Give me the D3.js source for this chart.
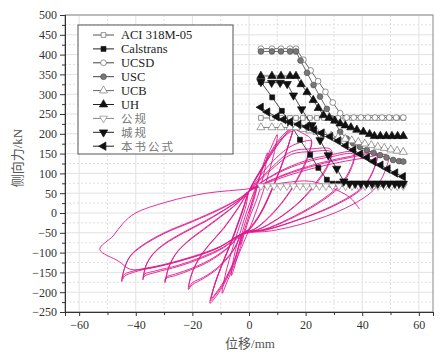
<!DOCTYPE html>
<html><head><meta charset="utf-8">
<script src="https://cdn.jsdelivr.net/npm/d3@7"></script>
<style>
body{margin:0;background:#fff;}
svg{display:block;}
</style></head>
<body>
<svg id="c" width="445" height="356"></svg>
<script>
// ---------------- data ----------------
const xTicks = [-60, -40, -20, 0, 20, 40, 60];
const yTicks = [-250, -200, -150, -100, -50, 0, 50, 100, 150, 200, 250, 300, 350, 400, 450, 500];
const legendNames = ["ACI 318M-05", "Calstrans", "UCSD", "USC", "UCB", "UH", "公规", "城规", "本书公式"];

const aciX = [4.2, 8.1, 11.3, 14.5, 16.6, 19, 21.5, 24, 26.5, 29, 31.5, 34, 36.3, 38.6, 40.9, 43.2, 45.5, 47.8, 50.1, 52.3, 54.5];
const aciY = [240, 240, 240, 240, 240, 240, 240, 240, 240, 240, 240, 240, 240, 240, 240, 240, 240, 240, 240, 240, 240];

const calX = [4.2, 8.2, 11.6, 14.5, 18, 21.6, 24.5, 27.5, 29.5, 31.5, 33.5, 35.5, 37.5, 39.5, 41.5, 43.5, 45.5, 47.5, 49.5, 51.5, 53, 54.5];
const calY = [331, 292, 258, 226, 185, 147, 114, 84, 74, 74, 74, 74, 74, 74, 74, 74, 74, 74, 74, 74, 74, 74];

const ucsdX = [4.2, 8.1, 11.3, 14.5, 16.6, 19.2, 21.8, 24.4, 27, 29.6, 32.2, 34.5, 37, 39.5, 42, 44.5, 47, 49.5, 52, 54.5];
const ucsdY = [415, 415, 415, 415, 415, 387, 360, 333, 306, 279, 252, 241, 241, 241, 241, 241, 241, 241, 241, 241];

const uscX = [4.2, 8.1, 11.3, 14.5, 16.6, 18.2, 20.5, 22.8, 25.1, 27.5, 29.8, 32.2, 34.5, 36.8, 39.2, 41.6, 44, 46.3, 48.6, 50.9, 53, 54.5];
const uscY = [408, 408, 408, 408, 408, 385, 354, 323, 294, 263, 237, 205, 188, 176, 167, 159, 152, 146, 140, 134, 131, 130];

const ucbX = [4.2, 8.1, 11.3, 14.5, 16.6, 19, 21.5, 24, 26.5, 29, 31.5, 34, 36.3, 38.6, 40.9, 43.2, 45.5, 47.8, 50.1, 52.3, 54.5];
const ucbY = [216, 216, 216, 216, 216, 212, 208, 204, 199, 195, 191, 187, 183, 179, 175, 171, 167, 164, 160, 157, 154];

const uhX = [4.2, 8.1, 11.3, 14.5, 16.6, 18.4, 20.5, 22.7, 24.5, 26.3, 28.3, 30.3, 32.2, 34, 36, 38.1, 40.4, 42.6, 44.3, 46.4, 48.5, 50.5, 52.5, 54.5];
const uhY = [346, 346, 346, 346, 346, 325, 305, 285, 265, 247, 240, 233, 226, 221, 216, 210, 205, 199, 194, 194, 194, 194, 194, 194];

const gongX = [4.2, 6.5, 8.8, 11.1, 13.4, 15.7, 18, 20.3, 22.6, 24.9, 27.2, 29.5, 31.8, 34.1, 36.4, 38.7, 41, 43.3, 45.6, 47.9, 50.2, 52.4, 54.5];
const gongY = [68, 68, 68, 68, 68, 68, 68, 68, 68, 68, 68, 68, 68, 68, 68, 68, 68, 68, 68, 68, 68, 68, 68];

const chengX = [4.2, 8, 11, 13.5, 15.7, 18.6, 22.2, 25.1, 28, 31, 33.5, 35.5, 37.5, 39.5, 41.5, 43.5, 45.5, 47.5, 49.5, 51.5, 53, 54.5];
const chengY = [331, 329, 329, 326, 297, 262, 222, 184, 146, 112, 80, 74, 74, 74, 74, 74, 74, 74, 74, 74, 74, 74];

const bookX = [4.2, 6.5, 9.8, 12.2, 14.5, 17.5, 20.4, 23, 25.7, 28.7, 31.5, 34.2, 36.9, 39.3, 41.7, 44, 46.5, 49, 51.7, 54.4];
const bookY = [267, 255, 243, 236, 230, 224, 218, 210, 202, 193, 182, 170, 159, 149, 140, 130, 121, 111, 101, 92];

// hysteresis test curve (displacement mm, force kN), cycle by cycle
const hys1 = [[0,0],[1.5,40],[3,75],[2.2,45],[0.5,5],[-1.5,-40],[-3,-80],[-2.2,-45],[-0.5,-5]];
const hys2 = [[2,45],[4.5,110],[6.5,152],[5.6,110],[3,40],[0,-15],[-3,-85],[-6.2,-158],[-5.3,-110],[-2.5,-35],[0,20]];
const hys3 = [[4,95],[7.5,160],[10,198],[9,155],[5,55],[1,-25],[-4,-110],[-7.5,-170],[-9.5,-203],[-8.5,-160],[-5,-70],[-1,20]];
const hys4a = [[0,55],[5,120],[10,180],[13.5,207],[15.7,218],[14.5,185],[12,130],[8,60],[4,0],[0,-40],[-2,-51],[-5,-120],[-9,-182],[-12,-214],[-13.8,-228],[-12.5,-190],[-10,-140],[-6,-70],[-2,10]];
const hys4b = [[0,55],[5,118],[10,176],[13.5,202],[15.5,212],[14.3,180],[11.8,125],[8,58],[4,-2],[0,-42],[-2,-51],[-5,-118],[-9,-178],[-12,-208],[-13.5,-222],[-12.3,-185],[-9.8,-135],[-6,-68],[-2,12]];
const hys4c = [[0,55],[5,115],[10,172],[13.3,198],[15.2,206],[14.1,176],[11.6,122],[8,56],[4,-4],[0,-43],[-2,-51],[-5,-115],[-9,-174],[-11.8,-203],[-13.2,-215],[-12.1,-180],[-9.6,-131],[-6,-66],[-2,14]];
const hys5a = [[0,55],[6,128],[11,180],[15,212],[18.5,203],[22,185],[21,150],[18,100],[13,40],[7,-10],[2,-40],[-2,-51],[-6,-100],[-11,-140],[-16,-165],[-20,-181],[-21.4,-193],[-20.5,-160],[-18,-120],[-14,-80],[-9,-40],[-4,10]];
const hys5b = [[0,55],[7,120],[14,165],[19,180],[22,182],[21,145],[18,96],[13,38],[7,-12],[2,-41],[-2,-51],[-6,-98],[-11,-137],[-16,-162],[-20,-176],[-21.2,-188],[-20.3,-155],[-17.8,-116],[-13.8,-77],[-9,-38],[-4,12]];
const hys6a = [[0,55],[8,115],[15,155],[22,162],[29,160],[28,125],[24,80],[18,30],[10,-15],[3,-42],[-2,-51],[-8,-92],[-14,-122],[-20,-142],[-26,-158],[-29.5,-166],[-29.7,-176],[-28.5,-140],[-26,-105],[-22,-75],[-16,-42],[-10,-10],[-4,25]];
const hys6b = [[0,55],[8,110],[15,148],[22,155],[29,154],[28,120],[24,76],[18,28],[10,-16],[3,-43],[-2,-51],[-8,-90],[-14,-119],[-20,-139],[-26,-154],[-29.3,-162],[-29.5,-170],[-28.3,-136],[-25.8,-102],[-21.8,-72],[-16,-40],[-10,-8],[-4,26]];
const hys7a = [[0,55],[10,102],[20,132],[29,147],[37,153],[36,115],[32,70],[24,25],[14,-15],[5,-42],[-2,-51],[-9,-88],[-17,-115],[-25,-135],[-33,-150],[-37,-160],[-37.5,-169],[-36.5,-135],[-34,-105],[-30,-80],[-23,-50],[-15,-20],[-7,15],[-2,40]];
const hys7b = [[0,55],[10,100],[20,128],[29,142],[37,148],[36,110],[32,66],[24,22],[14,-17],[5,-43],[-2,-51],[-9,-86],[-17,-112],[-25,-132],[-33,-146],[-37,-155],[-37.3,-164],[-36.3,-131],[-33.8,-102],[-29.8,-77],[-23,-48],[-15,-18],[-7,16],[-2,41]];
const hys8a = [[0,55],[12,96],[24,124],[35,142],[45,152],[44,110],[40,65],[30,20],[18,-15],[6,-42],[-2,-51],[-10,-85],[-20,-112],[-30,-132],[-40,-148],[-44,-160],[-45,-173],[-44,-140],[-42,-110],[-38,-85],[-30,-52],[-20,-22],[-10,10],[-3,38]];
const hys8b = [[0,55],[12,94],[24,121],[35,139],[45,148],[44,108],[40,62],[30,18],[18,-16],[6,-43],[-2,-51],[-10,-84],[-20,-110],[-30,-130],[-40,-145],[-44,-155],[-44.8,-166],[-43.8,-136],[-41.8,-107],[-37.8,-82],[-30,-50],[-20,-20],[-10,12],[-3,39]];
const hys9 = [[0,55],[14,95],[28,122],[40,138],[49,145],[48,105],[44,58],[34,12],[20,-25],[8,-45],[-2,-53],[-12,-92],[-24,-120],[-36,-140],[-42,-142],[-46,-122],[-52.7,-92],[-48,-58],[-44.5,-26],[-40.3,-1],[-29,28],[-15,50],[1,62],[12,76],[22,80],[31,58],[36,37],[39,10]];

// ---------------- drawing ----------------
const svg = d3.select("#c");
const L = 65, R = 433, T = 15, B = 312;
const x = d3.scaleLinear().domain([-65, 65]).range([L, R]);
const y = d3.scaleLinear().domain([-250, 500]).range([B, T]);
const serif = "Liberation Serif, Times New Roman, serif";
const cjk = "Liberation Serif, Noto Sans CJK SC, serif";

// grid
const g = svg.append("g");
const xMinor = d3.range(-60, 61, 10).filter(v => v % 20 !== 0);
const yMinor = d3.range(-225, 500, 50);
g.selectAll(".gxm").data(xMinor).join("line")
  .attr("x1", d => x(d)).attr("x2", d => x(d)).attr("y1", T).attr("y2", B)
  .attr("stroke", "#d8d8d8").attr("stroke-width", 0.8).attr("stroke-dasharray", "2,2");
g.selectAll(".gym").data(yMinor).join("line")
  .attr("x1", L).attr("x2", R).attr("y1", d => y(d)).attr("y2", d => y(d))
  .attr("stroke", "#d8d8d8").attr("stroke-width", 0.8).attr("stroke-dasharray", "2,2");
g.selectAll(".gx").data(xTicks).join("line")
  .attr("x1", d => x(d)).attr("x2", d => x(d)).attr("y1", T).attr("y2", B)
  .attr("stroke", "#e2e2e2").attr("stroke-width", 1);
g.selectAll(".gy").data(yTicks).join("line")
  .attr("x1", L).attr("x2", R).attr("y1", d => y(d)).attr("y2", d => y(d))
  .attr("stroke", "#e2e2e2").attr("stroke-width", 1);

// hysteresis
const hysAll = [hys1, hys2, hys3, hys4a, hys4b, hys4c, hys5a, hys5b, hys6a, hys6b, hys7a, hys7b, hys8a, hys8b, hys9];
const hline = d3.line().x(d => x(d[0])).y(d => y(d[1])).curve(d3.curveCatmullRom.alpha(0.5));
svg.append("path").datum(hysAll.flat())
  .attr("d", hline).attr("fill", "none").attr("stroke", "#e0198f").attr("stroke-width", 0.9);

// series
const series = [
  {name: legendNames[0], xs: aciX, ys: aciY, sym: d3.symbolSquare, rot: 0, size: 22, fill: "#fff", stroke: "#666", line: "#555"},
  {name: legendNames[1], xs: calX, ys: calY, sym: d3.symbolSquare, rot: 0, size: 24, fill: "#111", stroke: "#111", line: "#222"},
  {name: legendNames[2], xs: ucsdX, ys: ucsdY, sym: d3.symbolCircle, rot: 0, size: 26, fill: "#fff", stroke: "#666", line: "#444"},
  {name: legendNames[3], xs: uscX, ys: uscY, sym: d3.symbolCircle, rot: 0, size: 26, fill: "#777", stroke: "#555", line: "#444"},
  {name: legendNames[4], xs: ucbX, ys: ucbY, sym: d3.symbolTriangle, rot: 0, size: 28, fill: "#fff", stroke: "#777", line: "#666"},
  {name: legendNames[5], xs: uhX, ys: uhY, sym: d3.symbolTriangle, rot: 0, size: 30, fill: "#111", stroke: "#111", line: "#222"},
  {name: legendNames[6], xs: gongX, ys: gongY, sym: d3.symbolTriangle, rot: 180, size: 26, fill: "#fff", stroke: "#888", line: "#888"},
  {name: legendNames[7], xs: chengX, ys: chengY, sym: d3.symbolTriangle, rot: 180, size: 30, fill: "#111", stroke: "#111", line: "#222"},
  {name: legendNames[8], xs: bookX, ys: bookY, sym: d3.symbolTriangle, rot: -90, size: 30, fill: "#111", stroke: "#111", line: "#222"}
];
const sline = d3.line().x(d => x(d[0])).y(d => y(d[1]));
series.forEach(s => {
  const pts = s.xs.map((v, i) => [v, s.ys[i]]);
  const sg = svg.append("g");
  sg.append("path").datum(pts).attr("d", sline).attr("fill", "none").attr("stroke", s.line).attr("stroke-width", 0.8);
  const sym = d3.symbol().type(s.sym).size(s.size);
  sg.selectAll("path.m").data(pts).join("path").attr("class", "m")
    .attr("d", sym)
    .attr("transform", d => `translate(${x(d[0])},${y(d[1])}) rotate(${s.rot})`)
    .attr("fill", s.fill).attr("stroke", s.stroke).attr("stroke-width", 0.7);
});

// frame
svg.append("rect").attr("x", L).attr("y", T).attr("width", R - L).attr("height", B - T)
  .attr("fill", "none").attr("stroke", "#888").attr("stroke-width", 1);

// axes
const ax = svg.append("g").attr("transform", `translate(0,${B})`)
  .call(d3.axisBottom(x).tickValues(xTicks).tickSize(4).tickPadding(4));
const axm = svg.append("g").attr("transform", `translate(0,${B})`)
  .call(d3.axisBottom(x).tickValues(xMinor).tickSize(3).tickFormat(""));
const ay = svg.append("g").attr("transform", `translate(${L},0)`)
  .call(d3.axisLeft(y).tickValues(yTicks).tickSize(5).tickPadding(3));
const aym = svg.append("g").attr("transform", `translate(${L},0)`)
  .call(d3.axisLeft(y).tickValues(yMinor).tickSize(3).tickFormat(""));
[ax, axm, ay, aym].forEach(a => {
  a.attr("font-family", serif).attr("font-size", 12);
  a.select(".domain").attr("stroke", "#333");
  a.selectAll(".tick line").attr("stroke", "#333");
  a.selectAll("text").attr("font-family", serif).attr("font-size", 12).attr("fill", "#333");
});

// axis titles
svg.append("text").attr("x", 250).attr("y", 348).attr("text-anchor", "middle")
  .attr("font-family", cjk).attr("font-size", 13).attr("fill", "#555").text("位移/mm");
svg.append("text").attr("transform", "translate(22,158) rotate(-90)").attr("text-anchor", "middle")
  .attr("font-family", cjk).attr("font-size", 13).attr("fill", "#555").text("侧向力/kN");

// legend
const lg = svg.append("g");
lg.append("rect").attr("x", 78).attr("y", 25).attr("width", 155).attr("height", 129)
  .attr("fill", "#fff").attr("stroke", "#555").attr("stroke-width", 1);
series.forEach((s, i) => {
  const yy = 35 + i * 13.9;
  lg.append("line").attr("x1", 93).attr("x2", 114).attr("y1", yy).attr("y2", yy)
    .attr("stroke", s.line).attr("stroke-width", 1);
  lg.append("path").attr("d", d3.symbol().type(s.sym).size(s.size)())
    .attr("transform", `translate(103.5,${yy}) rotate(${s.rot})`)
    .attr("fill", s.fill).attr("stroke", s.stroke).attr("stroke-width", 0.7);
  const isCjk = /[\u4e00-\u9fff]/.test(s.name);
  lg.append("text").attr("x", 121).attr("y", yy + 4.3)
    .attr("font-family", isCjk ? cjk : serif).attr("font-size", isCjk ? 11.5 : 12.5)
    .attr("fill", isCjk ? "#777" : "#222")
    .attr("letter-spacing", isCjk ? 2 : 0)
    .text(s.name);
});
</script>
</body></html>
